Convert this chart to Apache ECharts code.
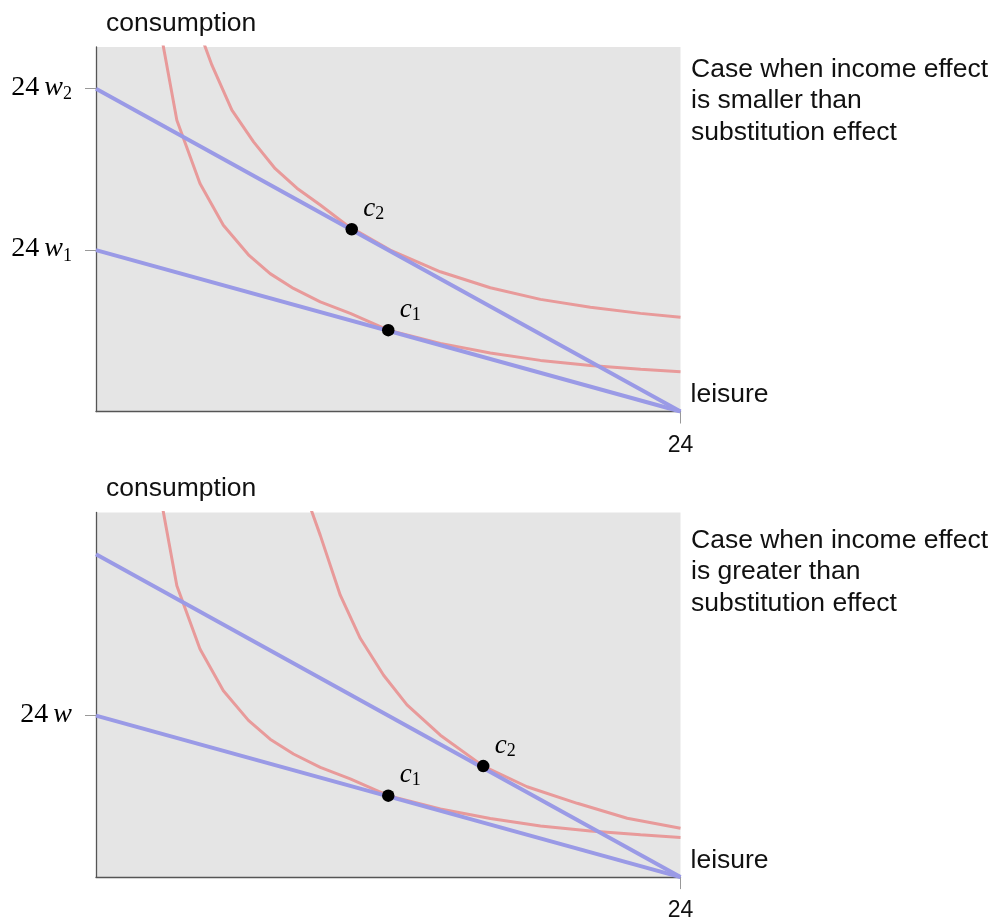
<!DOCTYPE html>
<html><head><meta charset="utf-8">
<script src="https://cdn.jsdelivr.net/npm/echarts@6/dist/echarts.min.js"></script>
<style>html,body{margin:0;padding:0;background:#fff}#c{width:995px;height:918px}</style>
</head><body><div id="c"></div>
<script>
// Indifference curve through c1 (same in both panels)
const curveLowLeisure = [2.36, 3.32, 4.27, 5.23, 6.26, 7.15, 8.11, 9.21, 10.44, 12.0, 14.14, 16.19, 18.25, 20.3, 22.36, 24];
const curveLowCons    = [62.3, 43.3, 33.9, 27.7, 23.3, 20.5, 18.3, 16.3, 14.6, 12.1, 10.13, 8.7, 7.6, 6.85, 6.3, 5.9];
// Indifference curve through c2, top panel
const curveTopHighLeisure = [4.2, 4.76, 5.58, 6.47, 7.36, 8.25, 9.21, 10.3, 12.08, 14.14, 16.19, 18.25, 20.3, 22.36, 24];
const curveTopHighCons    = [57, 51.5, 44.8, 40.1, 36.1, 33.2, 30.7, 27.7, 24.0, 20.78, 18.4, 16.67, 15.49, 14.59, 14.0];
// Indifference curve through c2, bottom panel
const curveBotHighLeisure = [8.5, 9.21, 10.03, 10.85, 11.81, 12.77, 14.14, 15.9, 17.7, 19.76, 21.81, 24];
const curveBotHighCons    = [58, 50.8, 41.9, 35.5, 30.0, 25.6, 21.1, 16.5, 13.43, 10.97, 8.74, 7.25];
// Budget lines
const budgetLowLeisure = [0, 24];
const budgetLowCons = [24, 0];
const budgetHighLeisure = [0, 24];
const budgetHighCons = [48, 0];
// Optimal points
const pointsTopLeisure = [12.0, 10.5];
const pointsTopCons = [12.1, 27.1];
const pointsBotLeisure = [12.0, 15.9];
const pointsBotCons = [12.1, 16.5];
const pointSubs = ['1', '2'];
// Ticks
const xTicks = [24];
const yTicksTop = [24, 48];
const yTickSubsTop = ['1', '2'];
const yTicksBot = [24];
const yTickSubsBot = [''];
const captionTop = 'Case when income effect\nis smaller than\nsubstitution effect';
const captionBot = 'Case when income effect\nis greater than\nsubstitution effect';
const yName = 'consumption';
const xName = 'leisure';

const zip = (a, b) => a.map((v, i) => [v, b[i]]);
const PINK = '#e89a9a', BLUE = '#9a9ae6';
const SANS = 'Liberation Sans', SERIF = 'Liberation Serif';

const chart = echarts.init(document.getElementById('c'), null, {renderer: 'canvas'});

function xAxisFor(gi) {
  return {
    type: 'value', gridIndex: gi, min: 0, max: 24,
    axisLine: {show: true, onZero: false, lineStyle: {color: '#555', width: 1.3}},
    axisTick: {show: true, customValues: xTicks, length: 12, lineStyle: {color: '#999', width: 1}},
    axisLabel: {show: true, customValues: xTicks, margin: 21, fontFamily: SANS, fontSize: 23, lineHeight: 26, color: '#111'},
    splitLine: {show: false},
    name: xName, nameLocation: 'end', nameGap: 10,
    nameTextStyle: {fontFamily: SANS, fontSize: 26.5, color: '#111', align: 'left', verticalAlign: 'bottom', lineHeight: 30, padding: [0, 0, 1.5, 0]}
  };
}
function yAxisFor(gi, ticks, subs) {
  return {
    type: 'value', gridIndex: gi, min: 0, max: 54.2,
    axisLine: {show: true, onZero: false, lineStyle: {color: '#555', width: 1.3}},
    axisTick: {show: true, customValues: ticks, length: 11, lineStyle: {color: '#999', width: 1}},
    axisLabel: {
      show: true, customValues: ticks, margin: 24,
      formatter: function (v) {
        const k = ticks.indexOf(v);
        const s = k >= 0 ? subs[k] : '';
        return '{n|24}{i|w}' + (s ? '{s|' + s + '}' : '');
      },
      rich: {
        n: {fontFamily: SERIF, fontSize: 28, lineHeight: 30, verticalAlign: 'top', color: '#000'},
        i: {fontFamily: SERIF, fontStyle: 'italic', fontSize: 28, lineHeight: 30, verticalAlign: 'top', color: '#000', padding: [0, 0, 0, 5]},
        s: {fontFamily: SERIF, fontSize: 18, lineHeight: 18, verticalAlign: 'bottom', color: '#000'}
      }
    },
    splitLine: {show: false},
    name: yName, nameLocation: 'end', nameGap: 8.7,
    nameTextStyle: {fontFamily: SANS, fontSize: 26.5, color: '#111', align: 'left', verticalAlign: 'bottom', lineHeight: 30, padding: [0, 0, 0, 10]}
  };
}
function lineSeries(gi, data, color, width) {
  return {
    type: 'line', xAxisIndex: gi, yAxisIndex: gi, data: data,
    showSymbol: false, symbol: 'none', smooth: false, clip: true,
    lineStyle: {color: color, width: width}, silent: true
  };
}
function pointSeries(gi, data) {
  return {
    type: 'scatter', xAxisIndex: gi, yAxisIndex: gi, data: data,
    symbolSize: 12.5, itemStyle: {color: '#000', opacity: 1}, z: 5,
    label: {
      show: true, position: 'inside', offset: [22, -20],
      formatter: function (p) { return '{i|c}{s|' + pointSubs[p.dataIndex] + '}'; },
      rich: {
        i: {fontFamily: SERIF, fontStyle: 'italic', fontSize: 27, lineHeight: 28, verticalAlign: 'top', color: '#000'},
        s: {fontFamily: SERIF, fontSize: 18, lineHeight: 12, verticalAlign: 'bottom', color: '#000'}
      }
    }
  };
}

const option = {
  animation: false,
  backgroundColor: '#fff',
  title: [
    {text: captionTop, left: 691, top: 53.75, padding: 0, textStyle: {fontFamily: SANS, fontSize: 26.5, fontWeight: 'normal', lineHeight: 31.5, color: '#111'}},
    {text: captionBot, left: 691, top: 524.75, padding: 0, textStyle: {fontFamily: SANS, fontSize: 26.5, fontWeight: 'normal', lineHeight: 31.5, color: '#111'}}
  ],
  grid: [
    {left: 96, top: 47, width: 584.5, height: 364.5, show: true, backgroundColor: '#e5e5e5', borderWidth: 0, containLabel: false, outerBoundsMode: 'none'},
    {left: 96, top: 512.5, width: 584.5, height: 364.6, show: true, backgroundColor: '#e5e5e5', borderWidth: 0, containLabel: false, outerBoundsMode: 'none'}
  ],
  xAxis: [xAxisFor(0), xAxisFor(1)],
  yAxis: [yAxisFor(0, yTicksTop, yTickSubsTop), yAxisFor(1, yTicksBot, yTickSubsBot)],
  series: [
    lineSeries(0, zip(curveLowLeisure, curveLowCons), PINK, 3),
    lineSeries(0, zip(curveTopHighLeisure, curveTopHighCons), PINK, 3),
    lineSeries(0, zip(budgetLowLeisure, budgetLowCons), BLUE, 4),
    lineSeries(0, zip(budgetHighLeisure, budgetHighCons), BLUE, 4),
    pointSeries(0, zip(pointsTopLeisure, pointsTopCons)),
    lineSeries(1, zip(curveLowLeisure, curveLowCons), PINK, 3),
    lineSeries(1, zip(curveBotHighLeisure, curveBotHighCons), PINK, 3),
    lineSeries(1, zip(budgetLowLeisure, budgetLowCons), BLUE, 4),
    lineSeries(1, zip(budgetHighLeisure, budgetHighCons), BLUE, 4),
    pointSeries(1, zip(pointsBotLeisure, pointsBotCons))
  ]
};
chart.setOption(option);
</script></body></html>
